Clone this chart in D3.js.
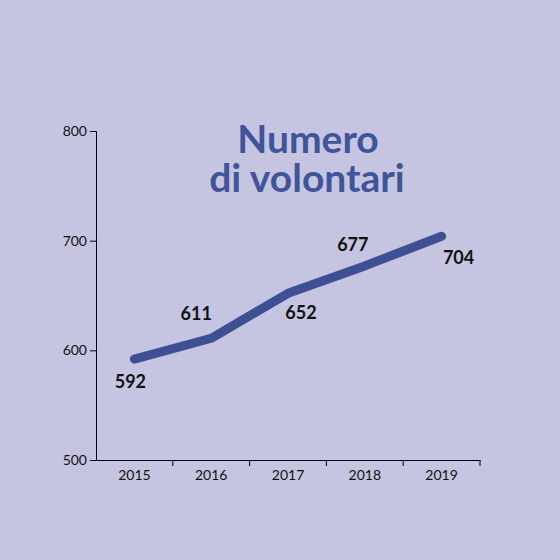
<!DOCTYPE html><html><head><script src="https://cdn.jsdelivr.net/npm/d3@7"></script>
<style>body{margin:0;background:#c5c5e1}</style></head><body><svg width="560" height="560"></svg><script>
const years=["2015","2016","2017","2018","2019"];
const values=[592,611,652,677,704];
const yTicks=[500,600,700,800];
const labelOffsets=[[-4,29],[-15,-18],[13,26],[-12,-15],[17,28]];
const svg=d3.select("svg");
svg.append("rect").attr("width",560).attr("height",560).attr("fill","#c5c5e1");
const x=d3.scaleBand().domain(years).range([96,480]);
const y=d3.scaleLinear().domain([500,800]).range([460,131]);
const ga=svg.append("g").attr("transform","translate(96,0)").call(d3.axisLeft(y).tickValues(yTicks).tickSize(6).tickFormat(d3.format("d")));
ga.selectAll("text").attr("font-size",14).attr("font-family","Lato").attr("fill","#111");
const gx=svg.append("g").attr("transform","translate(0,460)").call(d3.axisBottom(x).tickSize(0).tickPadding(10));
gx.selectAll("text").attr("font-size",14).attr("font-family","Lato").attr("fill","#111");
svg.selectAll(".bt").data(years).join("line").attr("x1",d=>x(d)+x.bandwidth()).attr("x2",d=>x(d)+x.bandwidth()).attr("y1",460).attr("y2",466).attr("stroke","#000");
svg.selectAll(".domain").attr("stroke","#000");
svg.selectAll(".tick line").attr("stroke","#000");
const cx=d=>x(d)+x.bandwidth()/2;
svg.append("path").datum(values).attr("fill","none").attr("stroke","#3f4f94").attr("stroke-width",9).attr("stroke-linecap","round").attr("stroke-linejoin","round")
.attr("d",d3.line().x((d,i)=>cx(years[i])).y(d=>y(d)));
svg.selectAll(".lb").data(values).join("text").attr("x",(d,i)=>cx(years[i])+labelOffsets[i][0]).attr("y",(d,i)=>y(d)+labelOffsets[i][1]).attr("text-anchor","middle").attr("font-family","Lato").attr("font-weight","bold").attr("font-size",18).attr("fill","#111").text(d=>d);
const t=svg.append("text").attr("text-anchor","middle").attr("font-family","Lato").attr("font-weight","bold").attr("font-size",39).attr("fill","#3f5499");
t.append("tspan").attr("x",308).attr("y",153).text("Numero");
t.append("tspan").attr("x",307).attr("y",192).text("di volontari");
</script></body></html>
